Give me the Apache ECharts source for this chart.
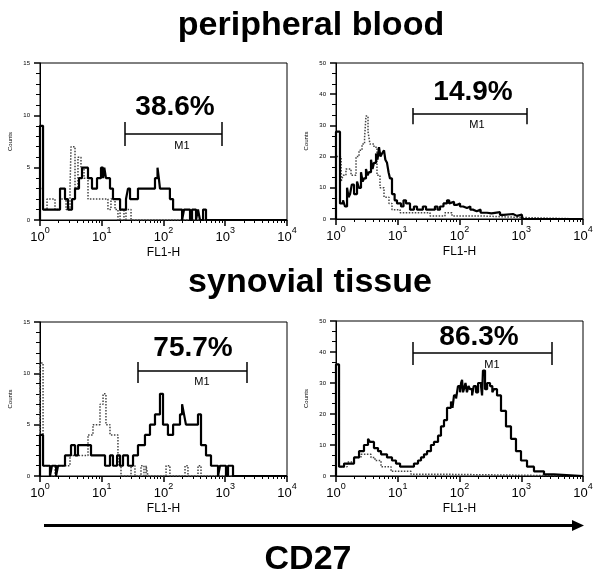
<!DOCTYPE html>
<html><head><meta charset="utf-8">
<script src="https://cdn.jsdelivr.net/npm/echarts@6/dist/echarts.min.js"></script>
<style>html,body{margin:0;padding:0;background:#fff}#c{width:600px;height:579px}</style>
</head><body><div id="c"></div>
<script>
// ---- tick labels ----
const decadeTicks = [1, 10, 100, 1000, 10000];
const minorTickValues = [2,3,4,5,6,7,8,9,20,30,40,50,60,70,80,90,200,300,400,500,600,700,800,900,2000,3000,4000,5000,6000,7000,8000,9000];
const rowTitles = ['peripheral blood', 'synovial tissue'];
const percentLabels = ['38.6%', '14.9%', '75.7%', '86.3%'];
const gateName = 'M1';
const xAxisName = 'FL1-H';
const yAxisName = 'Counts';
const bottomLabel = 'CD27';

// ---- axis ranges (counts) ----
const yMax = [15, 50, 15, 50];
const yInterval = [5, 10, 5, 10];

// ---- M1 gates: [from, to] in FL1-H, level and end-tick extent in counts ----
const gateRanges = [[23.8, 885], [17.7, 1240], [38.6, 2250], [17.7, 3150]];
const gateLevels = [8.2, 33.7, 10.3, 39.7];
const gateTickSpans = [[7.07, 9.36], [30.4, 35.6], [9.06, 11.1], [35.8, 43.2]];

// ---- histograms: [FL1-H, counts] ----
const pbLeftSolid = [[1,0],[1,9],[1.12,1],[2.11,3],[2.54,2],[2.84,1],[3.30,2],[3.69,3],[4.28,4],[4.79,5],[5.99,4],[6.95,3],[8.38,4],[9.72,5],[10.5,4],[11.0,5],[11.7,4],[13.6,3],[15.2,2],[19.8,1],[24.7,2],[26.6,3],[28.7,2],[38.6,3],[72.8,4],[80,5],[84,4],[87.7,3],[127,2],[143,1],[200,0],[215,1],[269,0],[290,1],[336,0],[362,1],[390,0],[437,1],[488,0],[10000,0]];
const pbLeftDotted = [[1,0],[1,3],[1.12,1],[1.30,2],[1.75,1],[2.11,2],[2.64,1],[3.06,3],[3.18,7],[3.69,3],[4.12,6],[4.61,5],[5.16,4],[5.99,2],[12.6,1],[14.1,2],[16.4,1],[18.3,0],[19.8,1],[22.9,0],[24.7,1],[29.8,0],[10000,0]];

const pbRightSolid = [[1,0],[1,28],[1.16,5],[1.3,6],[1.4,4],[1.51,10],[1.6,7],[1.69,8],[1.8,11],[1.96,8],[2.19,12],[2.35,10],[2.54,15],[2.7,12],[2.84,13],[3.06,16],[3.25,14],[3.42,15],[3.69,19],[3.9,16],[4.12,18],[4.45,21],[4.7,19],[4.97,23],[5.25,20],[5.56,21],[5.99,22],[6.3,19],[6.70,18],[7.1,15],[7.49,13],[8.07,8],[8.9,6],[9.72,5],[11.3,4],[12.4,6],[13.6,5],[15.8,3],[18.3,4],[20.5,3],[25.5,4],[28.7,3],[35.9,3],[40,4],[44,3],[48.3,4],[55,5],[62.8,6],[68,5],[72.8,5.5],[81.5,4.5],[90,5],[102,4],[115,3.5],[132,4],[150,3],[165,2.5],[190,3],[220,2],[279,1.8],[330,2.2],[453,1.3],[520,1.6],[735,1],[850,1.4],[1028,0],[10000,0]];
const pbRightDotted = [[1,0],[1,20],[1.21,12],[1.30,14],[1.45,16],[1.75,14],[2.11,20],[2.36,22],[2.64,24],[2.9,26],[3.06,33],[3.30,28],[3.55,24],[4.12,23],[4.61,14],[5.16,10],[5.99,7],[7.21,5],[8.07,3],[10.9,2],[33.3,1],[58.2,2],[75.6,1],[215,0.5],[955,0],[10000,0]];

const stLeftSolid = [[1,0],[1,4],[1.12,1],[1.45,0],[1.56,1],[1.82,0],[1.96,1],[2.54,2],[3.18,3],[3.69,2],[4.12,3],[5.56,3],[6.70,2],[8.70,2],[11.3,1],[13.6,2],[15.2,1],[17.7,2],[19.8,1],[22.1,2],[26.6,1],[32.1,2],[38.6,3],[50.1,4],[60.4,5],[72.8,6],[87.7,8],[98.2,5],[118,4],[143,5],[185,6],[200,7],[215,6],[231,5],[362,6],[405,3],[488,2],[588,1],[764,0],[822,1],[1028,0],[1109,1],[1336,0],[10000,0]];
const stLeftDotted = [[1,0],[1,11],[1.12,1],[1.45,0],[1.75,1],[2.54,1],[3.06,2],[5.99,4],[7.21,5],[9.37,7],[10.5,8],[11.7,5],[13.6,4],[18.3,1],[20.5,0],[29.8,1],[34.5,0],[43.2,1],[48.3,0],[52.1,1],[56.1,0],[110,1],[127,0],[223,1],[249,0],[362,1],[405,0],[10000,0]];

const stRightSolid = [[1,0],[1,36],[1.12,3],[1.35,4],[1.96,6],[2.36,8],[2.84,10],[3.30,12],[3.55,11],[4.12,9],[4.79,8],[5.36,7],[6.70,6],[8.07,5],[9.37,4],[10.9,3],[14.1,3],[18.3,4],[21.3,5],[23.8,6],[26.6,7],[29.8,8],[34.5,10],[38.6,11],[44.9,13],[50.1,16],[56.1,18],[62.8,22],[72.8,24],[77,22],[81.5,26],[88,25],[94.6,29],[102,27],[106,30],[110,31],[114,27],[118,28],[125,30],[132,27],[140,29],[148,28],[160,26],[170,29],[185,27],[200,30],[223,29],[232,26],[240,34],[259,28],[280,30],[312,29],[340,27],[362,28],[405,26],[470,21],[566,16],[682,12],[822,8],[991,5],[1240,3],[1607,1.5],[2335,0.5],[3390,0],[10000,0]];
const stRightDotted = [[1,0],[1,10],[1.12,3],[1.51,4.5],[1.96,6],[2.54,7],[3.69,6],[4.28,5],[5.36,3],[7.79,1.5],[16.4,0.6],[38.6,0],[10000,0]];

const solidSeries = [pbLeftSolid, pbRightSolid, stLeftSolid, stRightSolid];
const dottedSeries = [pbLeftDotted, pbRightDotted, stLeftDotted, stRightDotted];

// ---- layout ----
const FONT = '"Liberation Sans", Arial, Helvetica, sans-serif';
const grids = [
  {left: 40, top: 63, width: 247, height: 157},
  {left: 336, top: 63, width: 247, height: 156},
  {left: 40, top: 322, width: 247, height: 154},
  {left: 336, top: 321, width: 247, height: 155}
];
const percentPos = [[175, 107], [473, 92], [193, 348], [479, 337]];
const gateLabelPos = [[182, 146], [477, 125], [202, 382], [492, 365]];

const chart = echarts.init(document.getElementById('c'), null, {renderer: 'canvas'});

const option = {
  animation: false,
  backgroundColor: '#fff',
  grid: [], xAxis: [], yAxis: [], series: [],
  graphic: []
};

for (let i = 0; i < 4; i++) {
  option.grid.push(Object.assign({show: true, borderColor: '#000', borderWidth: 1, backgroundColor: 'transparent'}, grids[i]));
  option.xAxis.push({
    gridIndex: i, type: 'log', logBase: 10, min: 1, max: 10000, position: 'bottom',
    axisLine: {show: true, lineStyle: {color: '#000', width: 1}},
    axisTick: {show: true, length: 6, customValues: decadeTicks, lineStyle: {color: '#000', width: 1.5}},
    axisLabel: {
      customValues: decadeTicks, margin: 6,
      formatter: v => '{b|10}{s|' + Math.round(Math.log10(v)) + '}',
      rich: {
        b: {fontSize: 13, color: '#000', fontFamily: FONT, verticalAlign: 'bottom', lineHeight: 18},
        s: {fontSize: 9, color: '#000', fontFamily: FONT, verticalAlign: 'top', lineHeight: 9}
      }
    },
    splitLine: {show: false},
    name: xAxisName, nameLocation: 'middle', nameGap: 27,
    nameTextStyle: {fontSize: 12, color: '#000', fontFamily: FONT}
  });
  option.xAxis.push({
    gridIndex: i, type: 'log', logBase: 10, min: 1, max: 10000, position: 'bottom',
    axisLine: {show: false},
    axisTick: {show: true, length: 3, customValues: minorTickValues, lineStyle: {color: '#000', width: 1}},
    axisLabel: {show: false}, splitLine: {show: false}
  });
  option.yAxis.push({
    gridIndex: i, type: 'value', min: 0, max: yMax[i], interval: yInterval[i],
    axisLine: {show: true, lineStyle: {color: '#000', width: 1}},
    axisTick: {show: true, length: 6, lineStyle: {color: '#000', width: 1.5}},
    minorTick: {show: true, splitNumber: (i % 2) ? 3 : 5, length: 4, lineStyle: {color: '#000'}},
    splitLine: {show: false}, minorSplitLine: {show: false},
    axisLabel: {fontSize: 6, color: '#000', margin: 10, fontFamily: FONT},
    name: yAxisName, nameLocation: 'middle', nameGap: 27,
    nameTextStyle: {fontSize: 6, color: '#000', fontFamily: FONT}
  });
  option.series.push({
    type: 'line', xAxisIndex: 2 * i, yAxisIndex: i, data: dottedSeries[i],
    step: 'end', showSymbol: false, symbol: 'none', silent: true,
    lineStyle: {color: '#444', width: 1.5, type: 'dotted'}, z: 2
  });
  const g = gateRanges[i], lv = gateLevels[i], ts = gateTickSpans[i];
  option.series.push({
    type: 'line', xAxisIndex: 2 * i, yAxisIndex: i, data: solidSeries[i],
    step: 'end', showSymbol: false, symbol: 'none', silent: true,
    lineStyle: {color: '#000', width: 2.2}, z: 3,
    markLine: {
      silent: true, symbol: 'none', animation: false, label: {show: false},
      lineStyle: {color: '#000', width: 1.5, type: 'solid'},
      emphasis: {disabled: true},
      data: [
        [{coord: [g[0], lv]}, {coord: [g[1], lv]}],
        [{coord: [g[0], ts[0]]}, {coord: [g[0], ts[1]]}],
        [{coord: [g[1], ts[0]]}, {coord: [g[1], ts[1]]}]
      ]
    }
  });
  option.graphic.push({
    type: 'text', silent: true,
    style: {text: percentLabels[i], x: percentPos[i][0], y: percentPos[i][1],
      font: 'bold 28px ' + FONT, fill: '#000', align: 'center', verticalAlign: 'middle',
      textAlign: 'center', textVerticalAlign: 'middle'}
  });
  option.graphic.push({
    type: 'text', silent: true,
    style: {text: gateName, x: gateLabelPos[i][0], y: gateLabelPos[i][1],
      font: '11px ' + FONT, fill: '#000', align: 'center', verticalAlign: 'middle',
      textAlign: 'center', textVerticalAlign: 'middle'}
  });
}

const titlePos = [[311, 26], [310, 283]];
rowTitles.forEach((t, k) => {
  option.graphic.push({
    type: 'text', silent: true,
    style: {text: t, x: titlePos[k][0], y: titlePos[k][1], font: 'bold 34px ' + FONT,
      fill: '#000', align: 'center', verticalAlign: 'middle', textAlign: 'center', textVerticalAlign: 'middle'}
  });
});
option.graphic.push({
  type: 'text', silent: true,
  style: {text: bottomLabel, x: 308, y: 560, font: 'bold 34px ' + FONT,
    fill: '#000', align: 'center', verticalAlign: 'middle', textAlign: 'center', textVerticalAlign: 'middle'}
});
option.graphic.push({
  type: 'line', silent: true,
  shape: {x1: 44, y1: 525.5, x2: 574, y2: 525.5},
  style: {stroke: '#000', lineWidth: 3}
});
option.graphic.push({
  type: 'polygon', silent: true,
  shape: {points: [[572, 520], [584, 525.5], [572, 531]]},
  style: {fill: '#000'}
});

chart.setOption(option);
</script>
</body></html>
